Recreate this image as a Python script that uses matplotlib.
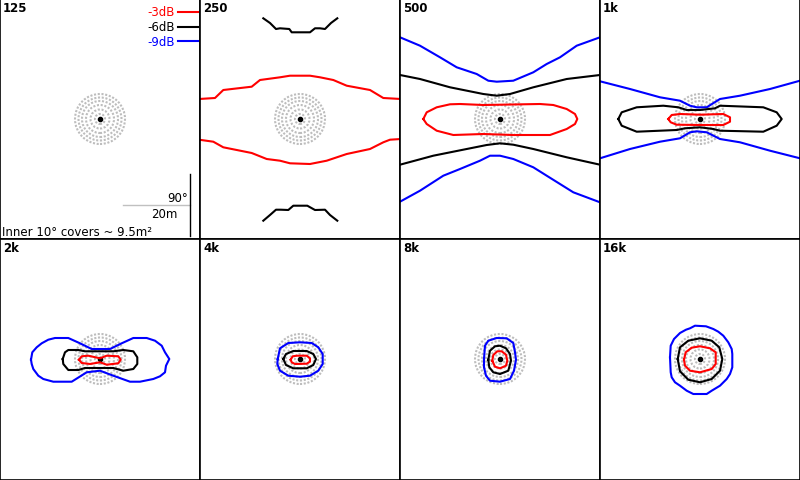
import matplotlib
matplotlib.use('Agg')
import matplotlib.pyplot as plt

# panel labels (frequency bands)
bands = ['125', '250', '500', '1k', '2k', '4k', '8k', '16k']
levels = ['-3dB', '-6dB', '-9dB']
level_colors = ['#ff0000', '#000000', '#0000ff']

# coverage contours, offsets from the speaker axis (1 unit = 1 px, 20m = 67 units)
# each entry: (level index, xs, ys, closed)
f250 = [
    (1, [-36.7, -30, -24, -20, -10.7, -8.3, 10, 15, 20, 25, 31, 37.3],
        [100.7, 96, 90, 90.7, 90, 86.7, 86.7, 90.7, 90.7, 90, 96, 100.7], False),
    (1, [-36.7, -30, -24, -19.3, -11.7, -6.7, 7.3, 15, 25, 30, 37.3],
        [-101.7, -96, -90.7, -90.7, -91, -86.7, -86.7, -91, -90.7, -96, -101.7], False),
    (0, [-101, -85, -76.7, -48.3, -40, -20, -10, 10, 20, 33.3, 46.7, 70, 83.3, 101],
        [20, 21, 29, 32.3, 39, 41.7, 43.3, 43.3, 41.7, 39, 33.3, 29, 21, 20], False),
    (0, [-101, -86.7, -76.7, -48.3, -33.3, -20, -10, 10, 26.7, 46.7, 70, 83.3, 90, 101],
        [-20.7, -22.7, -28.3, -34, -40, -41.7, -44.3, -45, -41.7, -35, -30, -23.3, -20.7, -20], False),
]
f500 = [
    (2, [-100, -80, -60, -43.3, -23.3, -11.7, -3.3, 13.3, 33.3, 46.7, 60, 76.7, 100],
        [81.7, 73.3, 61.7, 51.7, 45, 38.3, 37.3, 38.3, 46.7, 55, 61.7, 73.3, 81.7], False),
    (1, [-100, -80, -50, -16.7, -3.3, 10, 33.3, 66.7, 100],
        [44, 40, 31.7, 25, 23.3, 25, 31.7, 40, 44], False),
    (0, [-76.7, -73.3, -63.3, -50, -40, -16.7, 0, 40, 53.3, 66.7, 75, 77.3, 75, 66.7, 50, 13.3, -16.7, -46.7, -63.3, -73.3],
        [0, 6.7, 11.7, 14.7, 15, 14, 14.3, 15, 14, 10, 5, 0, -5, -10, -16, -16, -15, -16, -11.7, -5], True),
    (1, [-100, -66.7, -33.3, -13.3, 0, 13.3, 33.3, 66.7, 100],
        [-45.7, -36.7, -30, -26, -24.3, -25.7, -30, -38.3, -45.7], False),
    (2, [-100, -80, -56.7, -40, -20, -10, 0, 13.3, 33.3, 46.7, 73.3, 100],
        [-82.7, -71.7, -56.7, -50, -41.7, -36.7, -36.7, -40, -48.3, -56.7, -73.3, -83.3], False),
]
f1k = [
    (2, [-100, -70, -40, -20, -10, -3.3, 6.7, 20, 40, 70, 100],
        [37.7, 30, 21.7, 18.3, 13.3, 11.7, 11.7, 20, 23.3, 30, 38.3], False),
    (2, [-100, -70, -40, -20, -10, -3.3, 6.7, 20, 40, 70, 100],
        [-39.3, -30, -22.7, -19.3, -13.3, -12.3, -13.3, -20, -23.3, -31.7, -39.3], False),
    (1, [-81.7, -78.3, -63.3, -36.7, -21.7, -13.3, 0, 15, 20, 63.3, 76.7, 81.7, 76.7, 63.3, 20, 13.3, 0, -15, -23.3, -63.3, -78.3],
        [0, 6.7, 11.7, 13.3, 11.7, 9, 9, 10.7, 13.3, 11.7, 6.7, 0, -6.7, -12.7, -11.7, -10, -8.3, -9.3, -11, -12.7, -6.7], True),
    (0, [-31.7, -28.3, -20, 0, 23.3, 30, 30, 23.3, 0, -23.3, -29.3],
        [0, 4, 5, 4.3, 5, 1.7, -2.7, -6, -6, -5.7, -3.3], True),
]
f2k = [
    (2, [-69, -67.7, -63.3, -58.3, -51.7, -45, -31.7, -20, -8.3, 10, 21.7, 33.3, 46.7, 55, 61.7, 65, 69.3, 66, 65, 60, 53.3, 40, 30, 13.3, 0, -13.3, -28.3, -46.7, -56.7, -61.7, -66.7, -68.3],
        [-0.7, 6.7, 11.7, 15.7, 19.3, 21, 21, 15.7, 10, 10, 15.7, 21, 21, 18.3, 13.3, 6.7, 0, -6.7, -13.3, -17.3, -20, -22.7, -22.7, -16.7, -11.7, -13.3, -22.7, -22.7, -20, -16.7, -10, -5], True),
    (1, [-37.3, -35, -31.7, -21.7, -15, 13.3, 23.3, 33.3, 37.3, 37.3, 33.3, 23.3, 13.3, -15, -21.7, -31.7, -36.7],
        [0, 6.7, 9, 9, 7.7, 7.7, 9, 7.7, 1.7, -5, -10, -11.7, -9, -9, -11, -11, -5], True),
    (0, [-21, -18.3, -11.7, 0, 6.7, 18.3, 20.7, 18.3, 6.7, 0, -10, -18.3],
        [-0.7, 2.7, 3.3, 0.7, 3.3, 2.7, -0.7, -4.3, -5.7, -3.3, -5, -4], True),
]
f4k = [
    (2, [-22.3, -20, -11.7, 0, 11.7, 18.3, 22.7, 22.7, 18.3, 10, 0, -11.7, -20, -22.7],
        [0, 10.7, 16, 16.7, 16, 11.7, 5, -5, -11.7, -16.7, -17.7, -16.7, -11.7, -5], True),
    (1, [-16.7, -14, -6.7, 6.7, 13.3, 16, 13.3, 6.7, -6.7, -14],
        [0, 5, 8, 8, 5, 0, -6, -9.3, -9.3, -6], True),
    (0, [-9.3, -7.3, -3.3, 6.7, 10, 10, 6.7, -5, -8.3],
        [-0.7, 2.7, 3.3, 3.3, 0.7, -2.7, -4.7, -5, -3.3], True),
]
f8k = [
    (2, [-16, -15, -11.7, -3.3, 6.7, 13.3, 15, 16, 14, 10, 0, -10, -14, -16],
        [0, 13.3, 18.3, 21, 20.7, 16, 6.7, -0.7, -11.7, -20, -22.7, -21.7, -16.7, -8.3], True),
    (1, [-11.7, -10, -5, 0, 6, 10, 11, 8.3, 0, -6.7, -10.7],
        [-0.7, 8.3, 12.7, 13.3, 10.7, 5, -1.7, -11.7, -15, -13.3, -8.3], True),
    (0, [-7.7, -6.7, -2.7, 1.7, 6, 7.3, 6, 0, -5],
        [-1.7, 4, 7.7, 7.7, 4.3, -1.7, -6.7, -9.3, -7.7], True),
]
f16k = [
    (2, [-30, -29.3, -26, -20, -14, -10, -5, 6, 13.3, 18.3, 23.3, 28.3, 31.7, 32.3, 32.3, 30, 26.7, 20, 11.7, 6.7, -6.7, -13.3, -20, -25, -28.3, -29.3],
        [1.7, 13.3, 20, 26, 29.3, 30.7, 33.3, 32.7, 30, 27.3, 23.3, 16.7, 10, 5, -8.3, -15, -20, -26.7, -31.7, -35, -35, -31.7, -26.7, -23.3, -18.3, -13.3], True),
    (1, [-22.3, -20, -11.7, 0, 11.7, 19.3, 22.3, 20, 11.7, 0, -11.7, -20],
        [0, 11.7, 18.3, 20.7, 18.3, 11.7, 0, -11.7, -20, -23.3, -20.7, -12.3], True),
    (0, [-16, -14.3, -8.3, 0, 10, 15.7, 15.7, 11.7, 0, -10, -15],
        [-0.7, 6.7, 11.3, 12.7, 10.7, 6.7, -5, -10, -13.3, -11.7, -6.7], True),
]
contours = [[], f250, f500, f1k, f2k, f4k, f8k, f16k]

# dotted angle rings around the axis
ring_radii = [5, 9.5, 14, 18, 21.5, 25]

fig = plt.figure(figsize=(8, 4.81), dpi=100)

for i, band in enumerate(bands):
    col = i % 4
    row = i // 4
    if row == 0:
        ax = fig.add_axes([col * 0.25, 241 / 481, 0.25, 240 / 481])
        ax.set_ylim(-120, 120)
    else:
        ax = fig.add_axes([col * 0.25, 0, 0.25, 241 / 481])
        ax.set_ylim(-121, 120)
    ax.set_xlim(-100, 100)
    ax.set_xticks([])
    ax.set_yticks([])
    for s in ax.spines.values():
        s.set_color('black')
        s.set_linewidth(1.2)

    for r in ring_radii:
        ax.add_patch(plt.Circle((0, 0), r, fill=False, color='#bdbdbd',
                                lw=1.5, ls=(0, (1, 0.8))))
    ax.plot([0], [0], 'o', color='black', ms=3)

    for lev, xs, ys, closed in contours[i]:
        if closed:
            xs = xs + xs[:1]
            ys = ys + ys[:1]
        ax.plot(xs, ys, color=level_colors[lev], lw=1.5)

    ax.text(-97, 118, band, fontsize=8.5, fontweight='bold', va='top', ha='left')

    if i == 0:
        for k, lev in enumerate(levels):
            yy = 107 - k * 14.5
            ax.text(75, yy, lev, color=level_colors[k], fontsize=8.5,
                    ha='right', va='center')
            ax.plot([78, 98], [yy, yy], color=level_colors[k], lw=1.5)
        ax.plot([23, 90], [-86, -86], color='#c0c0c0', lw=1)
        ax.plot([90, 90], [-55, -117], color='black', lw=1)
        ax.text(88, -78, '90°', fontsize=8.5, ha='right', va='center')
        ax.text(77, -94, '20m', fontsize=8.5, ha='right', va='center')
        ax.text(-98, -112, 'Inner 10° covers ~ 9.5m²', fontsize=8.5,
                ha='left', va='center')

fig.savefig('out.png', dpi=100)
